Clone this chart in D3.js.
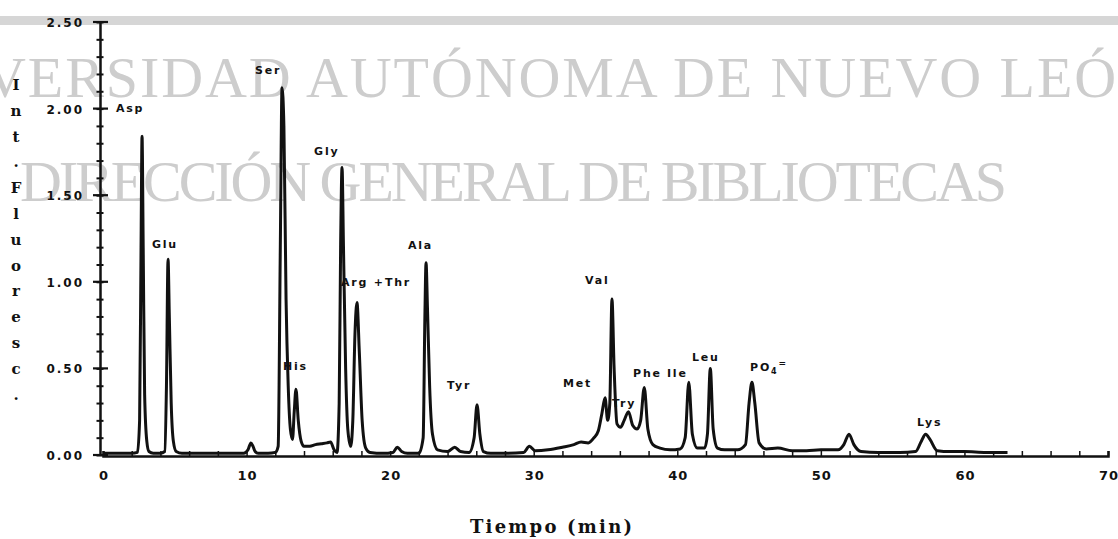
<!DOCTYPE html>
<html>
<head>
<meta charset="utf-8">
<script src="https://cdn.jsdelivr.net/npm/d3@7.9.0/dist/d3.min.js"></script>
<style>
  html, body { margin: 0; padding: 0; background: #fff; }
  svg { display: block; }
  .tick-lbl { font-family: "DejaVu Sans", sans-serif; font-weight: bold; fill: #111; }
  .peak { font-family: "DejaVu Sans", sans-serif; font-weight: bold; font-size: 11px; letter-spacing: 1.8px; fill: #111; }
</style>
</head>
<body>
<svg width="1118" height="539"></svg>
<script>
// retention time (min) and fluorescence
const traceTime = [0, 0.5, 1.0, 1.5, 2.0, 2.4, 2.55, 2.65, 2.72, 2.8, 2.9, 3.05, 3.2, 3.5, 4.0, 4.3, 4.42, 4.53, 4.62, 4.75, 4.9, 5.1, 5.5, 6, 7, 8, 9, 9.8, 10.1, 10.3, 10.45, 10.6, 10.8, 11.5, 12.0, 12.2, 12.35, 12.47, 12.6, 12.75, 12.9, 13.05, 13.2, 13.32, 13.44, 13.6, 13.8, 14.0, 14.4, 14.8, 15.2, 15.6, 15.85, 16.1, 16.3, 16.45, 16.55, 16.65, 16.75, 16.9, 17.05, 17.25, 17.4, 17.55, 17.69, 17.85, 18.05, 18.3, 18.6, 19.5, 20.2, 20.5, 20.8, 21.2, 22.0, 22.3, 22.42, 22.5, 22.6, 22.75, 22.95, 23.3, 24.0, 24.5, 24.9, 25.5, 25.85, 26.05, 26.25, 26.5, 27, 28, 29.3, 29.7, 30.1, 31, 32, 32.8, 33.3, 33.8, 34.2, 34.5, 34.75, 34.97, 35.15, 35.3, 35.45, 35.6, 35.8, 36.05, 36.3, 36.6, 36.9, 37.2, 37.45, 37.7, 37.95, 38.3, 38.8, 39.5, 40.2, 40.55, 40.8, 41.05, 41.4, 41.9, 42.1, 42.3, 42.5, 42.8, 43.3, 44.2, 44.75, 45.0, 45.2, 45.4, 45.7, 46.2, 47, 48, 49, 50, 51.2, 51.6, 51.96, 52.3, 52.8, 54, 55.5, 56.6, 57.0, 57.3, 57.6, 58.1, 59, 60, 61.5, 63];
const traceSignal = [0.01, 0.01, 0.01, 0.01, 0.01, 0.015, 0.2, 1.2, 1.84, 1.2, 0.35, 0.08, 0.02, 0.01, 0.01, 0.02, 0.4, 1.13, 0.8, 0.3, 0.08, 0.02, 0.01, 0.01, 0.01, 0.01, 0.01, 0.01, 0.03, 0.07, 0.05, 0.02, 0.01, 0.01, 0.015, 0.05, 1.2, 2.12, 1.9, 0.9, 0.4, 0.15, 0.09, 0.25, 0.38, 0.2, 0.08, 0.05, 0.05, 0.06, 0.065, 0.07, 0.075, 0.03, 0.015, 0.3, 1.2, 1.66, 1.2, 0.5, 0.15, 0.05, 0.2, 0.7, 0.88, 0.6, 0.2, 0.04, 0.015, 0.01, 0.015, 0.045, 0.02, 0.01, 0.01, 0.1, 0.8, 1.11, 0.85, 0.4, 0.12, 0.03, 0.02, 0.045, 0.02, 0.015, 0.1, 0.29, 0.12, 0.02, 0.01, 0.01, 0.015, 0.05, 0.025, 0.03, 0.045, 0.06, 0.075, 0.07, 0.1, 0.14, 0.24, 0.33, 0.2, 0.3, 0.90, 0.5, 0.18, 0.16, 0.2, 0.25, 0.17, 0.15, 0.2, 0.39, 0.15, 0.06, 0.04, 0.03, 0.035, 0.1, 0.42, 0.12, 0.04, 0.04, 0.12, 0.50, 0.15, 0.04, 0.03, 0.03, 0.06, 0.3, 0.42, 0.3, 0.07, 0.035, 0.04, 0.025, 0.025, 0.03, 0.03, 0.06, 0.12, 0.06, 0.02, 0.015, 0.015, 0.02, 0.08, 0.12, 0.09, 0.025, 0.02, 0.02, 0.015, 0.015];

// peak names and where their labels sit (time, signal)
const peakNames = ['Asp', 'Glu', 'Ser', 'His', 'Gly', 'Arg +Thr', 'Ala', 'Tyr', 'Met', 'Val', 'Try', 'Phe', 'Ile', 'Leu', 'PO4=', 'Lys'];
const labelTime = [0.9, 3.41, 10.59, 12.54, 14.7, 16.58, 21.24, 23.96, 32.04, 33.57, 35.45, 36.92, 39.28, 41.02, 45.07, 56.7];
const labelSignal = [1.98, 1.195, 2.2, 0.49, 1.73, 0.976, 1.19, 0.38, 0.39, 0.99, 0.28, 0.45, 0.45, 0.54, 0.485, 0.167];

const xTicks = [0, 10, 20, 30, 40, 50, 60, 70];
const yTicks = [0, 0.5, 1.0, 1.5, 2.0, 2.5];
const yTitle = 'Int.Fluoresc.'.split('');

const svg = d3.select('svg');
const x = d3.scaleLinear().domain([0, 70]).range([103, 1108]);
const y = d3.scaleLinear().domain([0, 2.5]).range([455, 22]);

// watermark + grey strip behind everything
svg.append('rect').attr('x', 0).attr('y', 16).attr('width', 1118).attr('height', 9).attr('fill', '#d6d6d6');
const wm = svg.append('g')
  .attr('font-family', '"Liberation Serif", "Times New Roman", serif')
  .attr('font-size', 58)
  .attr('fill', '#cdcdcd');
wm.append('text').attr('x', -16).attr('y', 97).text('VERSIDAD AUTÓNOMA DE NUEVO LEÓN')
  .attr('textLength', 1176).attr('lengthAdjust', 'spacing');
wm.append('text').attr('x', 20).attr('y', 201).text('DIRECCIÓN GENERAL DE BIBLIOTECAS')
  .attr('textLength', 987).attr('lengthAdjust', 'spacing');

// y axis
const yAxis = svg.append('g').attr('transform', 'translate(100,0)');
yAxis.call(d3.axisLeft(y).tickValues(d3.range(0, 2.501, 0.1)).tickSize(0).tickFormat(''));
yAxis.select('.domain').attr('stroke', '#111').attr('stroke-width', 2.5);
yAxis.selectAll('.tick').append('line')
  .attr('x1', -3.5).attr('x2', 3.5).attr('stroke', '#111').attr('stroke-width', 2);
yTicks.forEach(v => {
  yAxis.append('line').attr('x1', -7).attr('x2', 8)
    .attr('y1', y(v)).attr('y2', y(v)).attr('stroke', '#111').attr('stroke-width', 2.2);
  yAxis.append('text').attr('class', 'tick-lbl')
    .attr('x', -16).attr('y', y(v) + 5)
    .attr('text-anchor', 'end').attr('font-size', 12).attr('letter-spacing', 2)
    .text(v.toFixed(2));
});

// x axis
const xAxis = svg.append('g').attr('transform', `translate(0,${y(0) + 1})`);
xAxis.call(d3.axisBottom(x).tickValues(d3.range(0, 70.1, 2)).tickSize(-5).tickFormat(''));
xAxis.select('.domain').attr('stroke', '#111').attr('stroke-width', 2.5);
xAxis.selectAll('.tick line').attr('stroke', '#111').attr('stroke-width', 1.5);
xTicks.forEach(v => {
  xAxis.append('text').attr('class', 'tick-lbl')
    .attr('x', x(v) + 1).attr('y', 24)
    .attr('text-anchor', 'middle').attr('font-size', 13).attr('letter-spacing', 1)
    .text(v);
});

// chromatogram trace
const pts = traceTime.map((t, i) => [t, traceSignal[i]]);
svg.append('path')
  .datum(pts)
  .attr('fill', 'none')
  .attr('stroke', '#111')
  .attr('stroke-width', 3)
  .attr('stroke-linejoin', 'round')
  .attr('d', d3.line().x(d => x(d[0])).y(d => y(d[1])).curve(d3.curveMonotoneX));

// peak labels
peakNames.forEach((name, i) => {
  const t = svg.append('text').attr('class', 'peak')
    .attr('x', x(labelTime[i])).attr('y', y(labelSignal[i]));
  if (name === 'PO4=') {
    t.append('tspan').text('PO');
    t.append('tspan').attr('font-size', 8).attr('dy', 3).text('4');
    t.append('tspan').attr('font-size', 9).attr('dy', -8).text('=');
  } else {
    t.text(name);
  }
});

// axis titles
svg.append('g')
  .selectAll('text')
  .data(yTitle)
  .join('text')
  .attr('x', 16)
  .attr('y', (d, i) => 90 + i * 25.8)
  .attr('text-anchor', 'middle')
  .attr('font-family', '"DejaVu Serif", serif')
  .attr('font-weight', 'bold')
  .attr('font-size', 15)
  .attr('fill', '#111')
  .text(d => d);

svg.append('text')
  .attr('x', 470).attr('y', 533)
  .attr('textLength', 162).attr('lengthAdjust', 'spacing')
  .attr('font-family', '"DejaVu Serif", serif')
  .attr('font-weight', 'bold')
  .attr('font-size', 18)
  .attr('fill', '#111')
  .text('Tiempo (min)');
</script>
</body>
</html>
